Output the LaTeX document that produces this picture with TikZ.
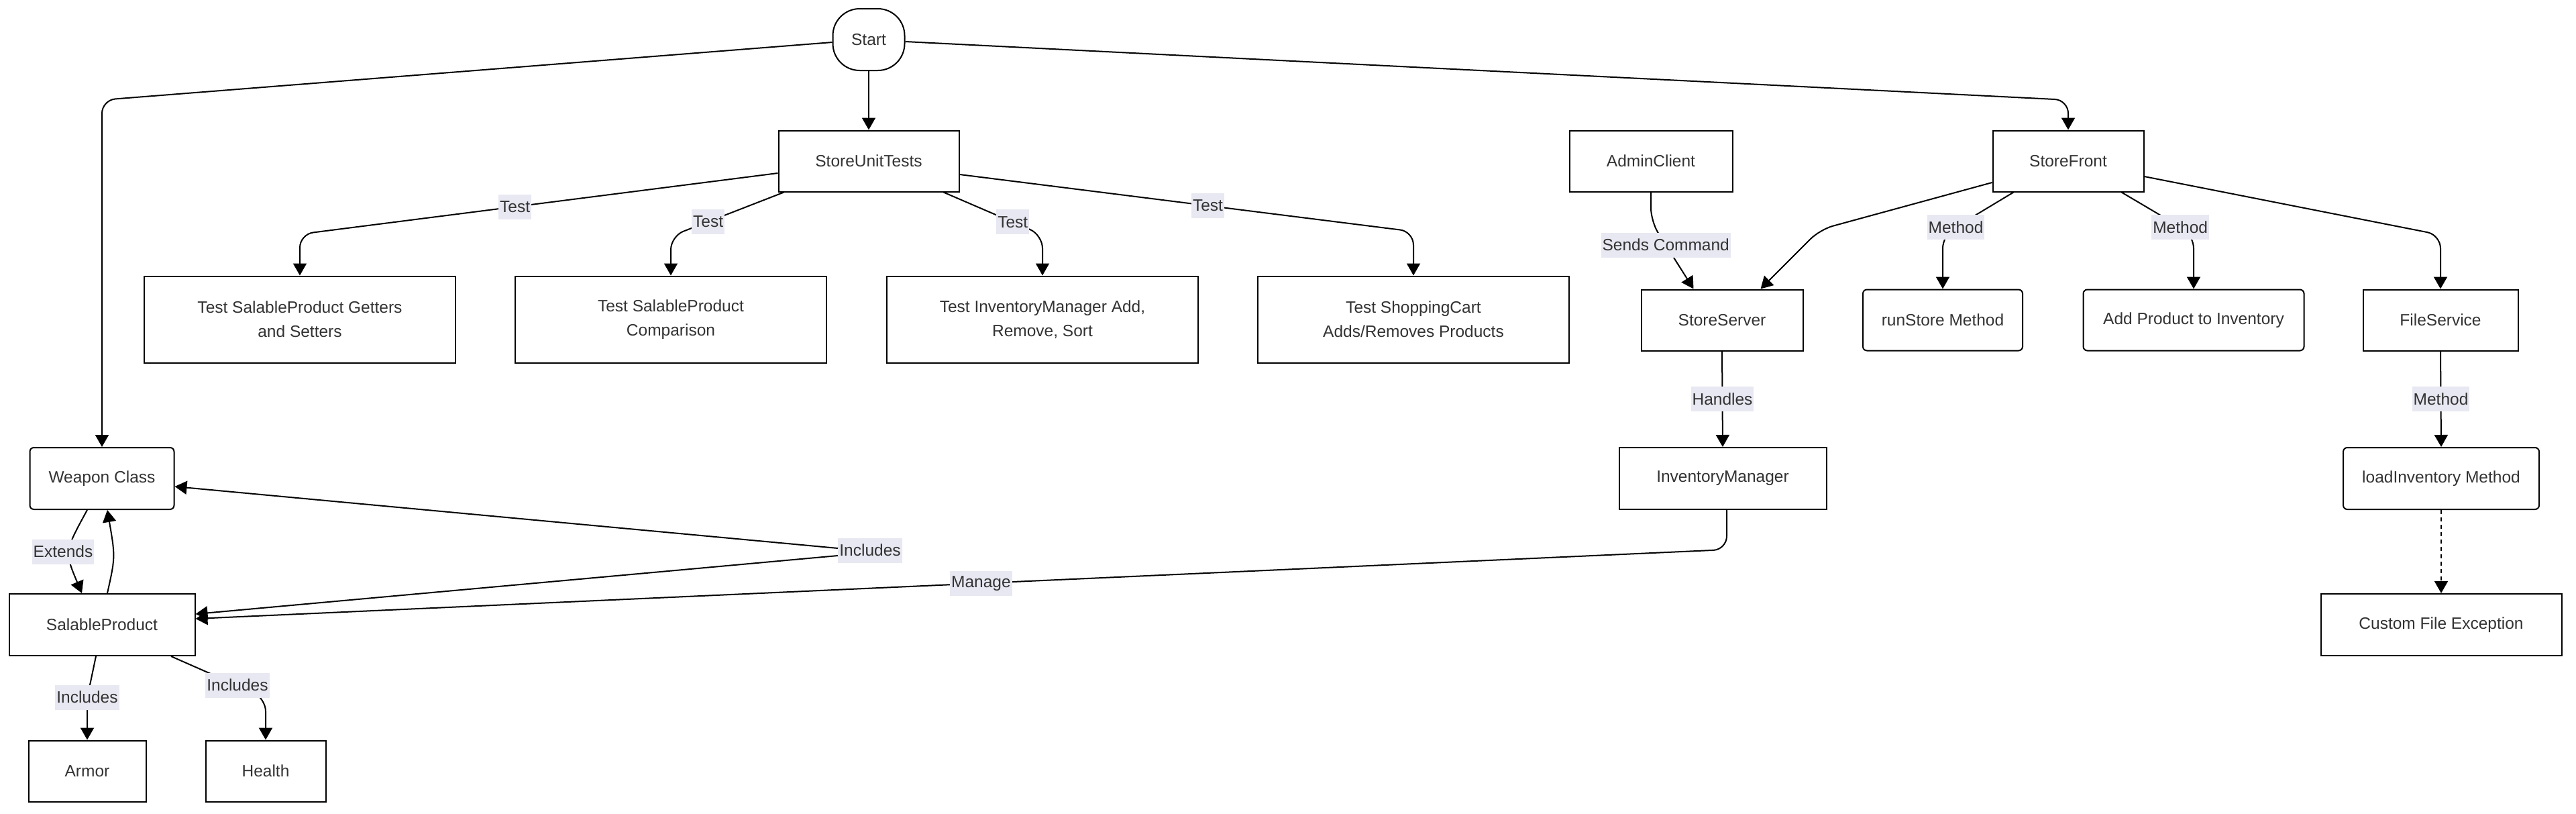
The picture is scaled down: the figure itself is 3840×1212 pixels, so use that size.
\documentclass[tikz,border=0pt]{standalone}
\usepackage{fontspec}
\setmainfont{Liberation Sans}
\usetikzlibrary{arrows.meta,calc}
\definecolor{lblbg}{RGB}{232,232,242}
\definecolor{txt}{RGB}{51,51,51}
\begin{document}
\begin{tikzpicture}[x=0.5pt,y=-0.5pt,
  every node/.style={font=\fontsize{12.25}{18}\selectfont, text=txt},
  box/.style={draw=black, line width=1pt, fill=white, align=center, inner sep=2pt, minimum height=45.5pt, sharp corners},
  rbox/.style={box, rounded corners=3pt},
  lbl/.style={fill=lblbg, inner xsep=1pt, inner ysep=0pt, minimum height=18.5pt, sharp corners},
  arr/.style={draw=black, line width=1pt, -{Triangle[length=9pt,width=10pt]}, rounded corners=10pt}
]
\useasboundingbox (0,0) rectangle (3840,1212);

% nodes
\node[box, rounded corners=20pt, minimum width=53.5pt, minimum height=46pt] (start) at (1295,59) {Start};
\node[box, minimum width=134.5pt] (sut) at (1295,240) {StoreUnitTests};
\node[box, minimum width=232pt, minimum height=64.5pt] (t1) at (447,476) {Test SalableProduct Getters\\and Setters};
\node[box, minimum width=232pt, minimum height=64.5pt] (t2) at (1000,476) {Test SalableProduct\\Comparison};
\node[box, minimum width=232pt, minimum height=64.5pt] (t3) at (1554,476) {Test InventoryManager Add,\\Remove, Sort};
\node[box, minimum width=232pt, minimum height=64.5pt] (t4) at (2107,476) {Test ShoppingCart\\Adds/Removes Products};
\node[rbox, minimum width=107.5pt, minimum height=46pt] (wc) at (152,713) {Weapon Class};
\node[box, minimum width=138.5pt, minimum height=46pt] (sp) at (152,931) {SalableProduct};
\node[box, minimum width=87.5pt] (ar) at (130,1149) {Armor};
\node[box, minimum width=89.5pt] (hl) at (396,1149) {Health};
\node[box, minimum width=121.5pt] (ac) at (2461,240) {AdminClient};
\node[box, minimum width=112.5pt] (sf) at (3083,240) {StoreFront};
\node[box, minimum width=120.5pt] (ss) at (2567,477) {StoreServer};
\node[rbox, minimum width=119pt] (rs) at (2896,477) {runStore Method};
\node[rbox, minimum width=164.5pt] (ap) at (3270,477) {Add Product to Inventory};
\node[box, minimum width=115.5pt] (fs) at (3638,477) {FileService};
\node[box, minimum width=154.5pt, minimum height=46pt] (im) at (2568,713) {InventoryManager};
\node[rbox, minimum width=146pt, minimum height=46pt] (li) at (3639,713) {loadInventory Method};
\node[box, minimum width=179.5pt, minimum height=46pt] (cfe) at (3639,931) {Custom File Exception};

% edges from Start
\draw[arr] ($(start.west)+(0,4)$) -- (152,149) -- (wc.north);
\draw[arr] (start.south) -- (sut.north);
\draw[arr] ($(start.east)+(0,3)$) -- (3083,149) -- (sf.north);

% StoreUnitTests
\draw[arr] ($(sut.west)+(0,18)$) -- node[lbl,pos=0.55]{Test} (447,349) -- (t1.north);
\draw[arr] ($(sut.south west)+(9,0)$) -- node[lbl,pos=0.67]{Test} (1000,352) -- (t2.north);
\draw[arr] ($(sut.south east)+(-24,0)$) -- node[lbl,pos=0.70]{Test} (1554,350) -- (t3.north);
\draw[arr] ($(sut.east)+(0,20)$) -- node[lbl,pos=0.547]{Test} (2107,345) -- (t4.north);

% right part
\draw[arr] (ac.south) -- (2461,330) -- node[lbl,pos=0.35]{Sends Command} ($(ss.north west)+(79,0)$);
\draw[arr] ($(sf.west)+(0,32)$) -- (2713,342) -- ($(ss.north east)+(-64,0)$);
\draw[arr] ($(sf.south west)+(32,0)$) -- node[lbl,pos=0.815]{Method} (2896,350) -- (rs.north);
\draw[arr] ($(sf.south east)+(-34,0)$) -- node[lbl,pos=0.815]{Method} (3270,350) -- (ap.north);
\draw[arr] ($(sf.east)+(0,23)$) -- (3638,350) -- (fs.north);
\draw[arr] (ss.south) -- node[lbl]{Handles} (im.north);
\draw[arr] (fs.south) -- node[lbl]{Method} (li.north);
\draw[arr, dash pattern=on 3pt off 2.5pt] (li.south) -- (cfe.north);

% manage
\draw[arr] ($(im.south)+(6,0)$) -- (2574,819) -- node[lbl,pos=0.487]{Manage} ($(sp.east)+(0,-9)$);

% includes (weapon / salable)
\node[lbl] (inc) at (1297,820) {Includes};
\draw[arr] ($(inc.west)+(0,-3)$) -- ($(wc.east)+(0,12)$);
\draw[arr] ($(inc.west)+(0,8)$) -- ($(sp.east)+(0,-16)$);

% extends
\draw[arr] ($(wc.south)+(-22,0)$) .. controls (96,822) .. ($(sp.north)+(-30,0)$);
\node[lbl] (ext) at (94,822) {Extends};
\draw[arr] ($(sp.north)+(8,0)$) .. controls (172,830) .. ($(wc.south)+(8,0)$);

% armor / health
\draw[arr] ($(sp.south)+(-9,0)$) -- (130,1040) -- (ar.north);
\node[lbl] (inca) at (130,1039) {Includes};
\draw[arr] ($(sp.south)+(103,0)$) -- (396,1040) -- (hl.north);
\node[lbl] (inch) at (354,1021) {Includes};
\end{tikzpicture}
\end{document}
